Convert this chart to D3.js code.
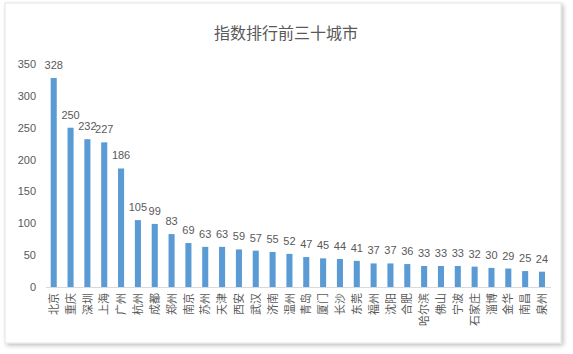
<!DOCTYPE html>
<html>
<head>
<meta charset="utf-8">
<script src="https://cdn.jsdelivr.net/npm/d3@7"></script>
<style>
  body { margin: 0; background: #fff; }
  svg text { font-family: "Noto Sans CJK SC", "Liberation Sans", sans-serif; fill: #595959; }
</style>
</head>
<body>
<svg id="chart" width="573" height="354"></svg>
<script>
// city names and index values
const cities = ["北京", "重庆", "深圳", "上海", "广州", "杭州", "成都", "郑州", "南京", "苏州",
  "天津", "西安", "武汉", "济南", "温州", "青岛", "厦门", "长沙", "东莞", "福州",
  "沈阳", "合肥", "哈尔滨", "佛山", "宁波", "石家庄", "淄博", "金华", "南昌", "泉州"];
const values = [328, 250, 232, 227, 186, 105, 99, 83, 69, 63,
  63, 59, 57, 55, 52, 47, 45, 44, 41, 37,
  37, 36, 33, 33, 33, 32, 30, 29, 25, 24];
const yTicks = [0, 50, 100, 150, 200, 250, 300, 350];
const title = "指数排行前三十城市";

const data = cities.map((c, i) => ({ city: c, value: values[i] }));

const svg = d3.select("#chart");

// card with soft shadow
const defs = svg.append("defs");
const f = defs.append("filter").attr("id", "shadow")
  .attr("x", "-5%").attr("y", "-5%").attr("width", "110%").attr("height", "110%");
f.append("feDropShadow").attr("dx", 2).attr("dy", 2).attr("stdDeviation", 2)
  .attr("flood-color", "#000").attr("flood-opacity", 0.25);

svg.append("rect")
  .attr("x", 5).attr("y", 3)
  .attr("width", 556).attr("height", 340)
  .attr("fill", "#fff")
  .attr("stroke", "#e3e3e3")
  .attr("filter", "url(#shadow)");

const x = d3.scaleBand()
  .domain(cities)
  .range([45.3, 550.4])
  .paddingInner(0.64)
  .paddingOuter(0.32);

const y = d3.scaleLinear()
  .domain([0, 350])
  .range([287, 64]);

// title
svg.append("text")
  .attr("x", 286)
  .attr("y", 39)
  .attr("text-anchor", "middle")
  .style("font-size", "16px")
  .text(title);

// y axis labels (no line)
const yAxis = svg.append("g")
  .attr("transform", "translate(36,0)")
  .call(d3.axisLeft(y).tickValues(yTicks).tickSize(0).tickPadding(0));
yAxis.select(".domain").remove();
yAxis.selectAll("text")
  .style("font-size", "11px")
  .attr("fill", "#595959")
  .style("font-family", "'Liberation Sans', sans-serif");

// bars
svg.selectAll(".bar")
  .data(data)
  .join("rect")
  .attr("class", "bar")
  .attr("x", d => x(d.city))
  .attr("y", d => y(d.value))
  .attr("width", x.bandwidth())
  .attr("height", d => y(0) - y(d.value))
  .attr("fill", "#5B9BD5");

// x axis
const xAxis = svg.append("g")
  .attr("transform", `translate(0,${y(0)})`)
  .call(d3.axisBottom(x).tickSize(0).tickPadding(0));
xAxis.select(".domain").attr("stroke", "#d9d9d9");
xAxis.selectAll("text")
  .attr("fill", "#595959")
  .style("font-size", "11px")
  .attr("transform", "rotate(-90)")
  .attr("text-anchor", "end")
  .attr("x", -6)
  .attr("y", 0)
  .attr("dy", "0.38em");

// value labels
svg.selectAll(".label")
  .data(data)
  .join("text")
  .attr("class", "label")
  .attr("x", d => x(d.city) + x.bandwidth() / 2)
  .attr("y", d => y(d.value) - 9)
  .attr("text-anchor", "middle")
  .style("font-size", "11px")
  .style("font-family", "'Liberation Sans', sans-serif")
  .text(d => d.value);
</script>
</body>
</html>
